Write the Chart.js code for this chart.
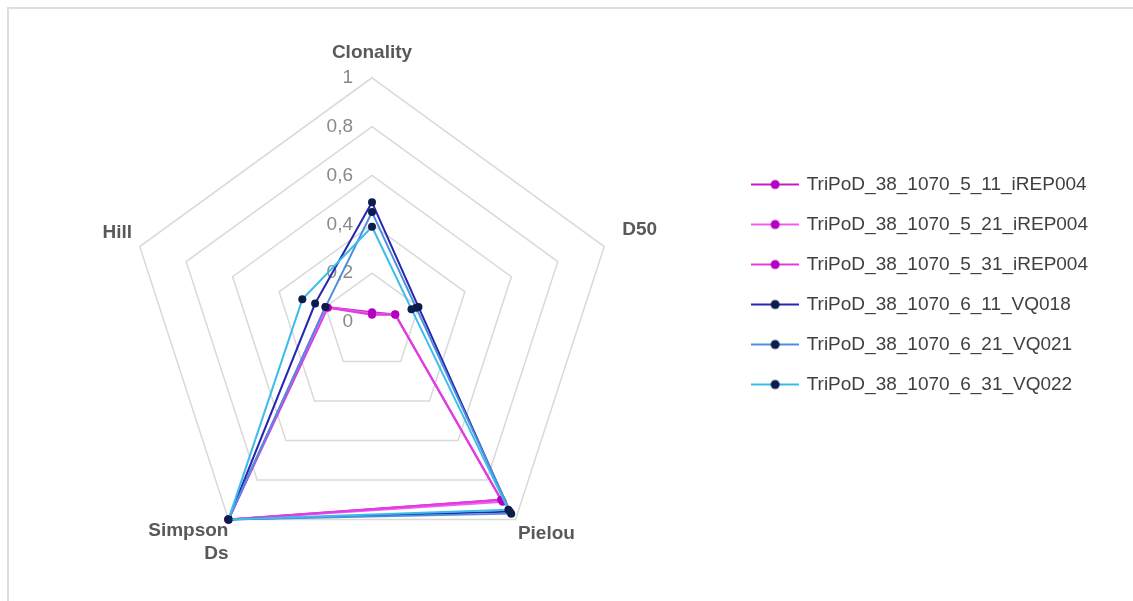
<!DOCTYPE html>
<html>
<head>
<meta charset="utf-8">
<script src="https://cdn.jsdelivr.net/npm/chart.js@4.4.0/dist/chart.umd.min.js"></script>
<style>
  body { margin: 0; background: #fff; overflow: hidden; }
  #frame { position: absolute; left: 7px; top: 7px; width: 1300px; height: 800px; border: 2px solid #dedede; }
  #radar { position: absolute; left: 0; top: 0; }
</style>
</head>
<body>
<div id="frame"></div>
<canvas id="radar" width="1133" height="601"></canvas>
<script>
// axes of the radar (clockwise from top)
const axisLabels = ["Clonality", "D50", "Pielou", ["Simpson", "Ds"], "Hill"];

const seriesNames = [
  "TriPoD_38_1070_5_11_iREP004",
  "TriPoD_38_1070_5_21_iREP004",
  "TriPoD_38_1070_5_31_iREP004",
  "TriPoD_38_1070_6_11_VQ018",
  "TriPoD_38_1070_6_21_VQ021",
  "TriPoD_38_1070_6_31_VQ022",
];

// values
const s5_11 = [0.04, 0.10, 0.90, 1.0, 0.20];
const s5_21 = [0.035, 0.10, 0.91, 1.0, 0.20];
const s5_31 = [0.03, 0.10, 0.90, 1.0, 0.19];
const s6_11 = [0.49, 0.20, 0.96, 1.0, 0.245];
const s6_21 = [0.45, 0.19, 0.97, 1.0, 0.20];
const s6_31 = [0.39, 0.17, 0.95, 1.0, 0.30];

const tickStep = 0.2;

const lineColors = ["#c21fc8", "#f25cf2", "#e03ce0", "#2626b0", "#4d8fdc", "#3cbde9"];
const markerColors = ["#b400c0", "#b400c0", "#b400c0", "#0c1d4c", "#0c1d4c", "#0c1d4c"];
const allValues = [s5_11, s5_21, s5_31, s6_11, s6_21, s6_31];

// small line+dot image used as legend symbol
function legendSymbol(lineColor, dotColor) {
  const c = document.createElement("canvas");
  c.width = 48;
  c.height = 12;
  const g = c.getContext("2d");
  g.strokeStyle = lineColor;
  g.lineWidth = 2;
  g.beginPath();
  g.moveTo(0, 6);
  g.lineTo(48, 6);
  g.stroke();
  g.fillStyle = dotColor;
  g.beginPath();
  g.arc(24, 6, 4.5, 0, Math.PI * 2);
  g.fill();
  return c;
}
const symbols = lineColors.map((c, i) => legendSymbol(c, markerColors[i]));

// later series are drawn on top, like in Excel
const datasets = allValues.map((vals, i) => ({
  label: seriesNames[i],
  data: vals,
  order: allValues.length - i,
  borderColor: lineColors[i],
  borderWidth: 2,
  fill: false,
  pointRadius: 4,
  pointBorderWidth: 0,
  pointBackgroundColor: markerColors[i],
}));

// Excel-like tick labels, left of the vertical axis
const tickLabelPlugin = {
  id: "tickLabels",
  beforeDatasetsDraw(chart) {
    const scale = chart.scales.r;
    const ctx = chart.ctx;
    ctx.save();
    ctx.font = "19px 'Liberation Sans'";
    ctx.fillStyle = "#8a8a8a";
    ctx.textAlign = "right";
    ctx.textBaseline = "middle";
    scale.ticks.forEach((t) => {
      const d = scale.getDistanceFromCenterForValue(t.value);
      ctx.fillText(t.label, scale.xCenter - 19, scale.yCenter - d);
    });
    ctx.restore();
  },
};

const labelPadding = [14, 19, 4, 0, 8];

new Chart(document.getElementById("radar"), {
  type: "radar",
  data: { labels: axisLabels, datasets: datasets },
  plugins: [tickLabelPlugin],
  options: {
    responsive: false,
    animation: false,
    devicePixelRatio: 1,
    layout: { padding: { left: 13, right: 35, top: 23, bottom: 16 } },
    elements: { line: { tension: 0 } },
    scales: {
      r: {
        min: 0,
        max: 1,
        ticks: {
          stepSize: tickStep,
          display: false,
          callback: (v) => String(Math.round(v * 10) / 10).replace(".", ","),
        },
        grid: { color: "#d9d9d9", lineWidth: 1.5 },
        angleLines: { display: false },
        pointLabels: {
          color: "#595959",
          font: { family: "'Liberation Sans'", size: 19, weight: "bold" },
          padding: (ctx) => labelPadding[ctx.index],
        },
      },
    },
    plugins: {
      tooltip: { enabled: false },
      legend: {
        position: "right",
        align: "start",
        title: { display: true, text: " ", font: { size: 10 }, padding: { top: 119, bottom: 0 } },
        labels: {
          usePointStyle: true,
          pointStyleWidth: 44,
          padding: 21,
          color: "#404040",
          font: { family: "'Liberation Sans'", size: 19 },
          sort: (a, b) => a.datasetIndex - b.datasetIndex,
          generateLabels(chart) {
            const items = Chart.defaults.plugins.legend.labels.generateLabels(chart);
            items.forEach((it) => { it.pointStyle = symbols[it.datasetIndex]; });
            return items;
          },
        },
      },
    },
  },
});
</script>
</body>
</html>
